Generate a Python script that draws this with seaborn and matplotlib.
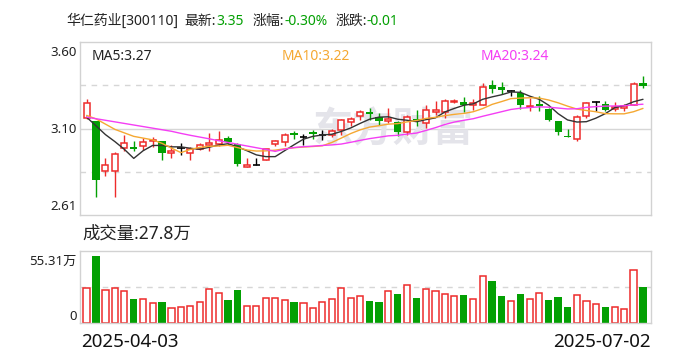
import numpy as np
import matplotlib
matplotlib.use('Agg')
import matplotlib.pyplot as plt
import seaborn as sns

# daily candles, 2025-04-03 .. 2025-07-02
opens = [3.166, 3.146, 2.862, 2.864, 2.994, 2.999, 3.005, 3.032, 3.032, 2.965,
         2.994, 2.965, 2.990, 3.013, 3.014, 3.051, 3.014, 2.885, 2.896, 2.927,
         3.014, 3.028, 3.080, 3.057, 3.083, 3.068, 3.068, 3.095, 3.140, 3.175,
         3.198, 3.171, 3.150, 3.144, 3.085, 3.162, 3.137, 3.202, 3.200, 3.255,
         3.255, 3.242, 3.238, 3.355, 3.343, 3.322, 3.309, 3.226, 3.248, 3.219,
         3.146, 3.062, 3.045, 3.177, 3.255, 3.248, 3.219, 3.225, 3.238, 3.366]
highs = [3.276, 3.150, 2.936, 2.973, 3.070, 3.032, 3.051, 3.054, 3.035, 3.011,
         3.022, 2.999, 3.022, 3.081, 3.093, 3.064, 3.020, 2.936, 2.936, 2.990,
         3.041, 3.080, 3.091, 3.074, 3.095, 3.099, 3.104, 3.160, 3.169, 3.209,
         3.223, 3.194, 3.223, 3.150, 3.185, 3.213, 3.238, 3.265, 3.275, 3.275,
         3.286, 3.275, 3.366, 3.385, 3.370, 3.325, 3.328, 3.280, 3.293, 3.222,
         3.150, 3.103, 3.183, 3.255, 3.265, 3.260, 3.255, 3.246, 3.372, 3.408]
lows = [3.160, 2.711, 2.831, 2.711, 2.974, 2.974, 2.984, 2.999, 2.923, 2.936,
        2.951, 2.923, 2.984, 2.978, 3.003, 3.013, 2.892, 2.885, 2.895, 2.925,
        3.007, 3.007, 3.045, 3.013, 3.045, 3.040, 3.057, 3.070, 3.117, 3.156,
        3.156, 3.127, 3.137, 3.064, 3.070, 3.121, 3.108, 3.185, 3.166, 3.250,
        3.198, 3.213, 3.238, 3.309, 3.303, 3.293, 3.219, 3.203, 3.203, 3.146,
        3.070, 3.057, 3.032, 3.166, 3.203, 3.203, 3.207, 3.203, 3.238, 3.334]
closes = [3.252, 2.808, 2.894, 2.959, 3.022, 2.988, 3.028, 3.041, 2.963, 2.976,
          2.994, 2.988, 3.011, 3.024, 3.041, 3.026, 2.900, 2.896, 2.896, 2.988,
          3.032, 3.066, 3.068, 3.057, 3.074, 3.068, 3.089, 3.154, 3.158, 3.200,
          3.189, 3.148, 3.158, 3.085, 3.171, 3.146, 3.211, 3.213, 3.261, 3.265,
          3.238, 3.249, 3.343, 3.332, 3.328, 3.322, 3.238, 3.234, 3.236, 3.156,
          3.083, 3.058, 3.171, 3.252, 3.255, 3.213, 3.226, 3.232, 3.360, 3.350]

ma5 = [3.170, 3.120, 3.070, 3.030, 2.986, 2.934, 2.978, 3.008, 3.008, 3.000,
       3.000, 2.992, 2.986, 2.998, 3.010, 3.018, 3.000, 2.978, 2.954, 2.944,
       2.944, 2.978, 3.012, 3.044, 3.060, 3.068, 3.072, 3.088, 3.108, 3.134,
       3.158, 3.170, 3.172, 3.158, 3.152, 3.144, 3.156, 3.166, 3.200, 3.220,
       3.238, 3.246, 3.272, 3.286, 3.298, 3.314, 3.312, 3.290, 3.272, 3.238,
       3.190, 3.154, 3.142, 3.144, 3.164, 3.190, 3.224, 3.236, 3.258, 3.272]
ma10 = [3.180, 3.160, 3.130, 3.100, 3.080, 3.060, 3.050, 3.040, 3.020, 2.993,
        2.967, 2.985, 2.997, 3.003, 3.005, 3.009, 2.996, 2.982, 2.976, 2.977,
        2.981, 2.989, 2.995, 2.999, 3.002, 3.006, 3.025, 3.050, 3.076, 3.097,
        3.113, 3.121, 3.130, 3.133, 3.143, 3.151, 3.163, 3.169, 3.179, 3.186,
        3.191, 3.201, 3.219, 3.243, 3.259, 3.276, 3.279, 3.281, 3.279, 3.268,
        3.252, 3.233, 3.216, 3.208, 3.201, 3.190, 3.189, 3.189, 3.201, 3.220]
ma20 = [3.170, 3.161, 3.152, 3.143, 3.134, 3.125, 3.116, 3.107, 3.098, 3.089,
        3.077, 3.066, 3.056, 3.046, 3.035, 3.025, 3.015, 3.005, 2.995, 2.985,
        2.974, 2.987, 2.996, 3.001, 3.004, 3.008, 3.011, 3.016, 3.026, 3.037,
        3.047, 3.055, 3.063, 3.066, 3.073, 3.079, 3.094, 3.110, 3.128, 3.142,
        3.152, 3.161, 3.175, 3.188, 3.201, 3.214, 3.221, 3.225, 3.229, 3.227,
        3.222, 3.217, 3.218, 3.226, 3.230, 3.233, 3.234, 3.235, 3.240, 3.244]

# volume in 万 shares, 1 = down day (green bar)
volumes = [26.9, 51.7, 25.3, 26.9, 24.6, 18.4, 18.4, 15.4, 16.1, 11.5,
           12.3, 13.1, 16.1, 26.1, 23.0, 17.7, 25.3, 13.1, 13.1, 19.2,
           19.2, 17.7, 16.1, 15.4, 11.5, 16.1, 18.4, 26.9, 19.2, 20.7,
           17.1, 16.4, 24.6, 22.5, 29.2, 19.4, 26.1, 24.6, 22.3, 20.7,
           21.5, 18.4, 36.1, 32.3, 20.7, 16.9, 22.3, 18.4, 23.0, 17.7,
           20.0, 12.3, 21.3, 16.9, 14.4, 12.3, 12.1, 10.5, 40.5, 27.8]
vol_down = [0, 1, 0, 0, 0, 1, 0, 0, 1, 0, 0, 0, 0, 0, 0, 1, 1, 0, 0, 0,
            0, 0, 1, 0, 0, 0, 0, 0, 0, 0, 1, 1, 0, 1, 0, 1, 0, 0, 0, 0,
            1, 0, 0, 1, 1, 0, 1, 0, 0, 1, 1, 1, 0, 0, 0, 1, 0, 0, 0, 1]

stock_name = '华仁药业[300110]'
date_labels = ['2025-04-03', '2025-07-02']
price_range = (2.61, 3.60)
vol_top = 55.31

RED = '#ee2b2b'
GREEN = '#03a003'
MA_COLORS = ['#333333', '#f5a832', '#f43ef4']
FRAME = '#d2d2d2'
TXT = '#222222'

sns.set_theme(style='white')
plt.rcParams['font.family'] = ['Noto Sans', 'Noto Sans CJK SC', 'DejaVu Sans']

W, H = 688, 360
fig = plt.figure(figsize=(W / 100, H / 100), dpi=100)


def box(x0, y0, x1, y1):
    return [x0 / W, 1 - y1 / H, (x1 - x0) / W, (y1 - y0) / H]


ax = fig.add_axes(box(80, 42, 651, 215))
axv = fig.add_axes(box(80, 251, 651, 323))

idx = np.arange(len(closes))
o = np.array(opens)
c = np.array(closes)
up = c > o
dn = c < o
flat = c == o

# candles
wick_cols = np.where(up, RED, np.where(dn, GREEN, 'black'))
ax.vlines(idx, lows, highs, colors=wick_cols, lw=1.0, zorder=2)
ax.bar(idx[up], (c - o)[up], bottom=o[up], width=0.64, facecolor='white',
       edgecolor=RED, lw=1.1, zorder=3)
ax.bar(idx[dn], (o - c)[dn], bottom=c[dn], width=0.76, color=GREEN, lw=0, zorder=3)
ax.hlines(c[flat], idx[flat] - 0.4, idx[flat] + 0.4, colors='black', lw=1.2, zorder=3)

for ma, col in zip([ma5, ma10, ma20], MA_COLORS):
    sns.lineplot(x=idx, y=ma, ax=ax, color=col, lw=1.0, zorder=4)

lo, hi = price_range
ax.set_ylim(lo, hi)
ax.axhline((lo + hi) / 2, color='#d6d6d6', lw=1, zorder=0)
for q in [0.25, 0.75]:
    ax.axhline(lo + (hi - lo) * q, color='#d6d6d6', lw=1, ls=(0, (4, 4)), zorder=0)
ax.text(0.548, 0.49, '东方财富', transform=ax.transAxes, ha='center', va='center',
        fontsize=29, fontweight='bold', color='#e4e4ea', zorder=0,
        family='Noto Sans CJK SC')

# volume
vd = np.array(vol_down) == 1
v = np.array(volumes)
axv.bar(idx[~vd], v[~vd], width=0.66, facecolor='white', edgecolor=RED, lw=1.1)
axv.bar(idx[vd], v[vd], width=0.78, color=GREEN, lw=0)
axv.set_ylim(0, vol_top)
axv.axhline(vol_top / 2, color='#d6d6d6', lw=1, ls=(0, (4, 4)), zorder=0)

for a in (ax, axv):
    a.set_xlim(-0.7, len(closes) - 0.15)
    a.set_xticks([])
    a.set_yticks([])
    a.set_xlabel('')
    a.set_ylabel('')
    for s in a.spines.values():
        s.set_color(FRAME)
        s.set_linewidth(1)

# price / volume axis labels
fs = 9.5
for y, t in [(52, f'{hi:.2f}'), (129, f'{(lo + hi) / 2:.2f}'), (206, f'{lo:.2f}'),
             (261, f'{vol_top:.2f}万'), (316, '0')]:
    fig.text(77 / W, 1 - y / H, t, ha='right', va='center', fontsize=fs, color=TXT)

# title line, pieces chained left to right
last, prev = closes[-1], closes[-2]
chg = last - prev
pieces = [(stock_name, TXT, 6), ('最新:', TXT, 0), (f'{last:.2f}', GREEN, 9),
          ('涨幅:', TXT, 0), (f'{chg / prev * 100:.2f}%', GREEN, 8),
          ('涨跌:', TXT, 0), (f'{chg:.2f}', GREEN, 0)]
renderer = fig.canvas.get_renderer()
x = 66.7
for t, col, gap in pieces:
    txt = fig.text(x / W, 1 - 21.5 / H, t, ha='left', va='center', fontsize=10, color=col)
    x = txt.get_window_extent(renderer).x1 + gap

# MA legend
for x, name, ma, col in [(91.7, 'MA5', ma5, TXT), (281.7, 'MA10', ma10, MA_COLORS[1]),
                         (480.7, 'MA20', ma20, MA_COLORS[2])]:
    fig.text(x / W, 1 - 57 / H, f'{name}:{ma[-1]:.2f}', ha='left', va='center', fontsize=10, color=col)

fig.text(82.7 / W, 1 - 234 / H, f'成交量:{volumes[-1]:.1f}万', ha='left', va='center',
         fontsize=12.5, color=TXT)
fig.text(81 / W, 1 - 342 / H, date_labels[0], ha='left', va='center', fontsize=13.5, color='#111111')
fig.text(651 / W, 1 - 342 / H, date_labels[1], ha='right', va='center', fontsize=13.5, color='#111111')

fig.savefig('out.png', dpi=100, facecolor='white')
